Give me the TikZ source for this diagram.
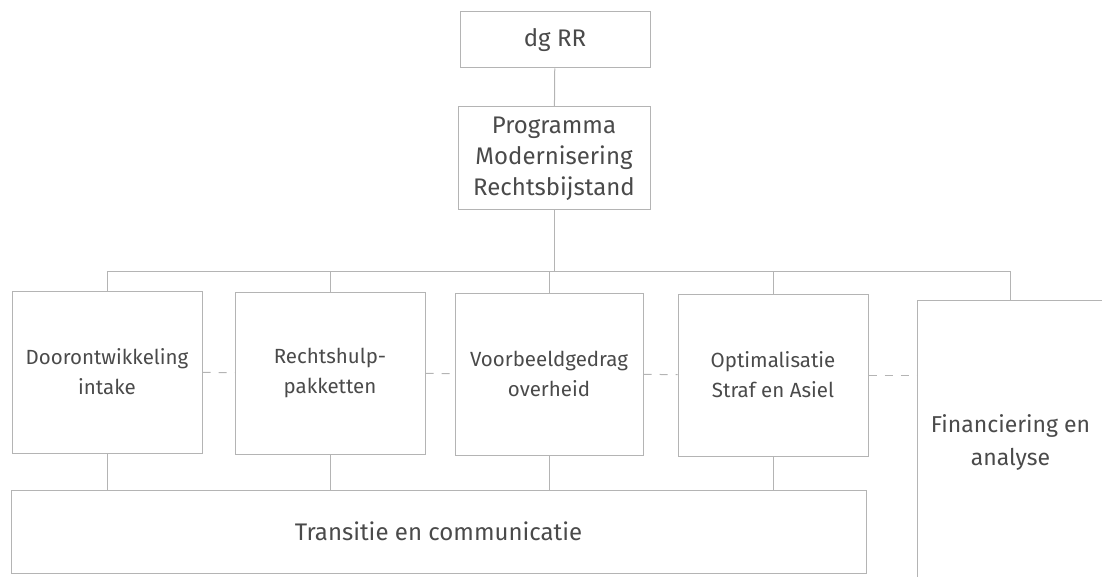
\documentclass[tikz,border=0pt]{standalone}
\usepackage{fontspec}
\setmainfont{Fira Sans}
\usetikzlibrary{calc,positioning}
\definecolor{boxline}{HTML}{B4B4B4}
\definecolor{boxtext}{HTML}{4A4A4A}
\tikzset{%
    unit/.style={%
        rectangle, draw=boxline, line width=1pt, inner sep=0pt, text centered, align=center,
        text=boxtext, font=\fontsize{20.5}{30}\selectfont
    },
    topunit/.style={%
        unit, font=\fontsize{24}{31}\selectfont
    },
    project/.style={%
        unit, minimum width=190pt, minimum height=162pt
    },
    link/.style={%
        draw=boxline, line width=1pt
    },
    dashlink/.style={%
        link, dash pattern=on 8pt off 8pt
    },
}

\begin{document}
\begin{tikzpicture}[x=1pt,y=-1pt]
      \useasboundingbox (0,0) rectangle (1102,577);

      \node[topunit, minimum width=190pt, minimum height=56pt] (dg) at (555,40) {dg RR};
      \node[topunit, minimum width=192pt, minimum height=103pt] (prog) at (554,158.5) {Programma\\Modernisering\\Rechtsbijstand};

      \node[project] (A) at (107,372) {Doorontwikkeling\\intake};
      \node[project] (B) at (330,373) {Rechtshulp-\\pakketten};
      \node[project, minimum width=188pt] (C) at (549,374) {Voorbeeldgedrag\\overheid};
      \node[project] (D) at (773,375) {Optimalisatie\\Straf en Asiel};

      \node[topunit, font=\fontsize{23}{33}\selectfont, minimum width=187pt, minimum height=285pt] (fin) at (1010.5,442.5) {Financiering en\\analyse};
      \node[topunit, minimum width=855pt, minimum height=83pt] (trans) at (438.5,531.5) {Transitie en communicatie};

      \coordinate (bus) at (0,271);
      \draw[link] (dg) -- (prog);
      \draw[link] (prog) -- (prog |- bus);
      \draw[link] (A.north |- bus) -- (fin.north |- bus);
      \foreach \n in {A,B,C,D,fin} {
        \draw[link] (\n.north) -- (\n.north |- bus);
      }
      \foreach \n in {A,B,C,D} {
        \draw[link] (\n.south) -- (\n.south |- trans.north);
      }

      \draw[dashlink] (A) -- (B);
      \draw[dashlink] (B) -- (C);
      \draw[dashlink] (C) -- (D);
      \draw[dashlink] (D.east) -- (D.east -| fin.west);
      \draw[dashlink] ($(trans.east)+(0,10)$) -- ($(trans.east)+(0,10)$ -| fin.west);
    \end{tikzpicture}
\end{document}
